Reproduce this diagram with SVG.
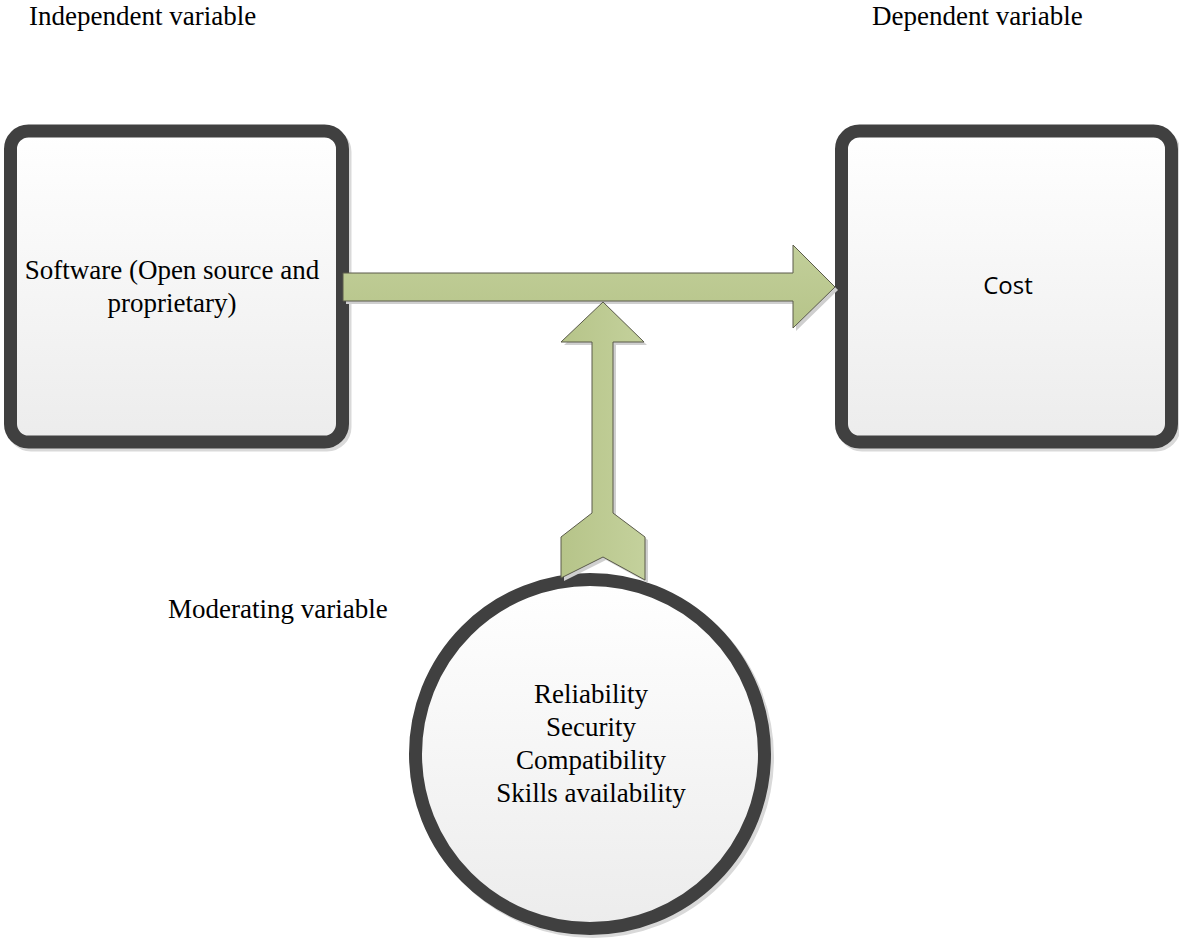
<svg xmlns="http://www.w3.org/2000/svg" width="1179" height="939" viewBox="0 0 1179 939">
<defs>
<linearGradient id="boxFill" x1="0" y1="0" x2="0" y2="1">
<stop offset="0" stop-color="#ffffff"/>
<stop offset="1" stop-color="#ececec"/>
</linearGradient>
<linearGradient id="greenFill" x1="0" y1="0" x2="1" y2="0">
<stop offset="0" stop-color="#b6c489"/>
<stop offset="1" stop-color="#c4d19c"/>
</linearGradient>
<linearGradient id="greenFillV" x1="0" y1="0" x2="0" y2="1">
<stop offset="0" stop-color="#c2cf9a"/>
<stop offset="1" stop-color="#b6c489"/>
</linearGradient>
<style>
.lbl{font-family:"Liberation Serif","Times New Roman",serif;font-size:27px;fill:#000}
.sans{font-family:"Open Sans","Liberation Sans",sans-serif;font-size:24px;fill:#000}
.frame{fill:url(#boxFill);stroke:#404040;stroke-width:13}
.shadow{fill:none;stroke:#d9d9d9;stroke-width:13}
.arrow{stroke:#5a5a4a;stroke-width:1;stroke-linejoin:miter}
.ashadow{fill:#cfcfcf;stroke:none}
</style>
</defs>
<rect width="1179" height="939" fill="#ffffff"/>

<text class="lbl" x="29" y="25">Independent variable</text>
<text class="lbl" x="872" y="25">Dependent variable</text>
<text class="lbl" x="168" y="618">Moderating variable</text>

<g id="node-software">
<rect class="shadow" x="13" y="134" width="332" height="311" rx="18"/>
<rect class="frame" x="10.5" y="131" width="332" height="311" rx="18"/>
<text class="lbl" text-anchor="middle" x="172" y="279">Software (Open source and</text>
<text class="lbl" text-anchor="middle" x="172" y="312">proprietary)</text>
</g>

<g id="node-cost">
<rect class="shadow" x="844" y="134" width="330" height="311" rx="18"/>
<rect class="frame" x="841.5" y="131" width="330" height="311" rx="18"/>
<text class="sans" text-anchor="middle" x="1008" y="294">Cost</text>
</g>

<g id="node-moderating">
<circle class="shadow" cx="593" cy="757" r="174.5"/>
<circle class="frame" cx="590" cy="754" r="174.5"/>
<text class="lbl" text-anchor="middle" x="591" y="703">Reliability</text>
<text class="lbl" text-anchor="middle" x="591" y="736">Security</text>
<text class="lbl" text-anchor="middle" x="591" y="769">Compatibility</text>
<text class="lbl" text-anchor="middle" x="591" y="802">Skills availability</text>
</g>

<g id="connectors">
<polygon class="ashadow" points="346,276 796,276 796,248 838,290 796,331 796,304 346,304"/>
<polygon class="arrow" fill="url(#greenFillV)" points="343,273 793,273 793,245 835,287 793,328 793,301 343,301"/>
<polygon class="ashadow" points="606,305 647,345 616,345 616,516 648,540 648,583 606,560 564,581 564,540 595,516 595,345 564,345"/>
<polygon class="arrow" fill="url(#greenFill)" points="603,302 644,342 613,342 613,513 645,537 645,580 603,557 561,578 561,537 592,513 592,342 561,342"/>
</g>
</svg>
